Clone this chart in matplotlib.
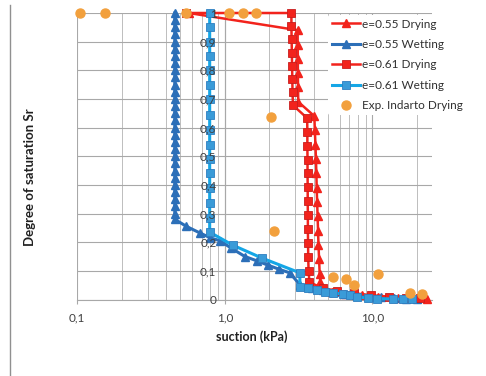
import matplotlib
matplotlib.use("Agg")
import matplotlib.pyplot as plt
from matplotlib.ticker import FixedLocator, FixedFormatter, NullFormatter
from matplotlib.lines import Line2D

plt.rcParams['font.family'] = ['Lato', 'DejaVu Sans']

# ---- data ----
d55_x = [0.57, 3.12, 3.12, 3.13, 3.13, 3.14, 3.15, 4.05, 4.08, 4.12, 4.15, 4.18, 4.2, 4.23,
         4.26, 4.29, 4.32, 4.36, 4.4, 4.45, 4.7, 5.3, 6.5, 8.5, 11.0, 15.0, 18.5, 23.5]
d55_y = [1.0, 0.94, 0.89, 0.84, 0.79, 0.74, 0.69, 0.64, 0.59, 0.54, 0.49, 0.44, 0.39, 0.34,
         0.29, 0.24, 0.19, 0.14, 0.09, 0.06, 0.035, 0.025, 0.018, 0.014, 0.01, 0.006, 0.004, 0.002]

w55_x = [0.458] * 29 + [0.458, 0.55, 0.68, 0.80, 0.93, 1.1, 1.37, 1.65, 1.96, 2.35, 2.76,
                        3.25, 3.9, 4.6, 5.5, 6.5, 7.8, 9.5, 11.5, 14.0, 17.0, 20.0]
w55_y = [1.0, 0.975, 0.95, 0.925, 0.9, 0.875, 0.85, 0.825, 0.8, 0.775, 0.75, 0.725, 0.7,
         0.675, 0.65, 0.625, 0.6, 0.575, 0.55, 0.525, 0.5, 0.475, 0.45, 0.425, 0.4, 0.375,
         0.35, 0.325, 0.3,
         0.28, 0.255, 0.232, 0.215, 0.205, 0.18, 0.15, 0.135, 0.12, 0.105, 0.093,
         0.05, 0.04, 0.033, 0.026, 0.02, 0.014, 0.01, 0.007, 0.005, 0.003, 0.002]

d61_x = [0.55, 2.83, 2.83, 2.84, 2.85, 2.86, 2.87, 2.88, 2.9,
         3.62, 3.63, 3.63, 3.64, 3.64, 3.65, 3.65, 3.66, 3.66, 3.67, 3.68, 3.7,
         3.75, 4.6, 5.8, 7.5, 9.8, 13.0, 17.0, 21.0]
d61_y = [1.0, 1.0, 0.954, 0.908, 0.862, 0.816, 0.77, 0.724, 0.678,
         0.633, 0.585, 0.537, 0.488, 0.44, 0.392, 0.343, 0.295, 0.247, 0.198, 0.15, 0.1,
         0.06, 0.04, 0.03, 0.022, 0.015, 0.01, 0.006, 0.004]

w61_x = [0.79] * 16 + [1.13, 1.78, 3.23, 3.23, 3.65, 4.2, 4.76, 5.4, 6.3, 7.05, 7.86,
                       9.3, 10.7, 13.8, 16.1, 18.5]
w61_y = [1.0, 0.95, 0.9, 0.85, 0.8, 0.75, 0.7, 0.645, 0.59, 0.54, 0.49, 0.44, 0.39, 0.337,
         0.284, 0.235,
         0.19, 0.145, 0.093, 0.044, 0.04, 0.033, 0.026, 0.023, 0.019, 0.016, 0.009,
         0.005, 0.003, 0.002, 0.001, 0.002]

exp_x = [0.105, 0.154, 0.55, 1.06, 1.32, 1.62, 2.07, 2.15, 5.4, 6.68, 7.55, 10.9, 17.9, 21.9]
exp_y = [1.0, 1.0, 1.0, 1.0, 1.0, 1.0, 0.638, 0.239, 0.079, 0.071, 0.051, 0.089, 0.022, 0.019]

labels = ["e=0.55 Drying", "e=0.55 Wetting", "e=0.61 Drying", "e=0.61 Wetting",
          "Exp. Indarto Drying"]
y_ticks = [0, 0.1, 0.2, 0.3, 0.4, 0.5, 0.6, 0.7, 0.8, 0.9, 1.0]
y_ticklabels = ["0", "0,1", "0,2", "0,3", "0,4", "0,5", "0,6", "0,7", "0,8", "0,9", "1"]
x_ticks = [0.1, 1.0, 10.0]
x_ticklabels = ["0,1", "1,0", "10,0"]

RED = "#F2231C"
DBLUE = "#2C6FB8"
LBLUE_LINE = "#14A6E6"
LBLUE_MK = "#3A9BD8"
ORANGE = "#F2A03D"
GRID = '#A8A8A8'

fig = plt.figure(figsize=(4.86, 3.76), dpi=100)
ax = fig.add_axes([77.3 / 486, 1 - 299.5 / 376, (431.7 - 77.3) / 486, (299.5 - 13) / 376])

ax.set_xscale('log')
ax.set_xlim(0.1, 25.3)
ax.set_ylim(0, 1.0)

ax.plot(d55_x, d55_y, color=RED, lw=1.8, marker='^', ms=5.5, mfc=RED, mec=RED,
        label=labels[0], zorder=3, clip_on=False)
ax.plot(w55_x, w55_y, color=DBLUE, lw=2.2, marker='^', ms=5.5, mfc=DBLUE, mec=DBLUE,
        label=labels[1], zorder=4, clip_on=False)
ax.plot(d61_x, d61_y, color=RED, lw=1.8, marker='s', ms=5.5, mfc=RED, mec="#C81E1E",
        mew=0.6, label=labels[2], zorder=5, clip_on=False)
ax.plot(w61_x, w61_y, color=LBLUE_LINE, lw=2.2, marker='s', ms=5.5, mfc=LBLUE_MK,
        mec="#2F7FC0", mew=0.6, label=labels[3], zorder=6, clip_on=False)
ax.plot(exp_x, exp_y, ls='none', marker='o', ms=6.5, mfc=ORANGE, mec=ORANGE,
        label=labels[4], zorder=7, clip_on=False)

# grid: vertical lines via the x axis (kept below), horizontal lines drawn below the data
ax.grid(True, which='major', axis='x', color=GRID, lw=0.8)
ax.grid(True, which='minor', axis='x', color='#BDBDBD', lw=0.7)
ax.xaxis.set_zorder(0.5)
ax.hlines(y_ticks, 0.1, 25.3, colors=GRID, lw=0.8, zorder=0.6)

ax.yaxis.set_major_locator(FixedLocator(y_ticks))
ax.yaxis.set_major_formatter(FixedFormatter(y_ticklabels))
ax.xaxis.set_major_locator(FixedLocator(x_ticks))
ax.xaxis.set_major_formatter(FixedFormatter(x_ticklabels))
ax.xaxis.set_minor_formatter(NullFormatter())
ax.yaxis.set_zorder(8)

for s in ['top', 'right']:
    ax.spines[s].set_visible(False)
ax.spines['left'].set_position(('data', 1.0))
ax.spines['left'].set_color(GRID)
ax.spines['left'].set_linewidth(0.8)
ax.spines['left'].set_zorder(0.6)
ax.spines['bottom'].set_color(GRID)
ax.spines['bottom'].set_linewidth(0.8)
ax.spines['bottom'].set_zorder(0.6)

ax.tick_params(axis='y', length=0, pad=6, labelsize=8.5, labelcolor='#404040')
ax.tick_params(axis='x', which='major', length=3, color=GRID, pad=6, labelsize=8.5,
               labelcolor='#404040')
ax.tick_params(axis='x', which='minor', length=0)

fig.text(252 / 486, 1 - 337 / 376, "suction (kPa)", ha='center', va='center',
         fontsize=9, fontweight='bold', color='#202020')
fig.text(30 / 486, 1 - 177 / 376, "Degree of saturation Sr", ha='center', va='center',
         rotation=90, fontsize=9.5, fontweight='bold', color='#202020')

# left border line
fig.add_artist(Line2D([9.5 / 486, 9.5 / 486], [0, 1 - 5 / 376], transform=fig.transFigure,
                      color='#909090', lw=1.0))

leg = ax.legend(loc='upper left', bbox_to_anchor=(328 / 486, 1 - 15 / 376),
                bbox_transform=fig.transFigure, fontsize=8.5, frameon=True,
                facecolor='white', edgecolor='none', framealpha=1, handlelength=2.4,
                handletextpad=0.15, labelspacing=0.8, borderpad=0.3, borderaxespad=0)
for t in leg.get_texts():
    t.set_color('#303030')
leg.set_zorder(10)

fig.savefig("out.png", dpi=100, facecolor='white')
